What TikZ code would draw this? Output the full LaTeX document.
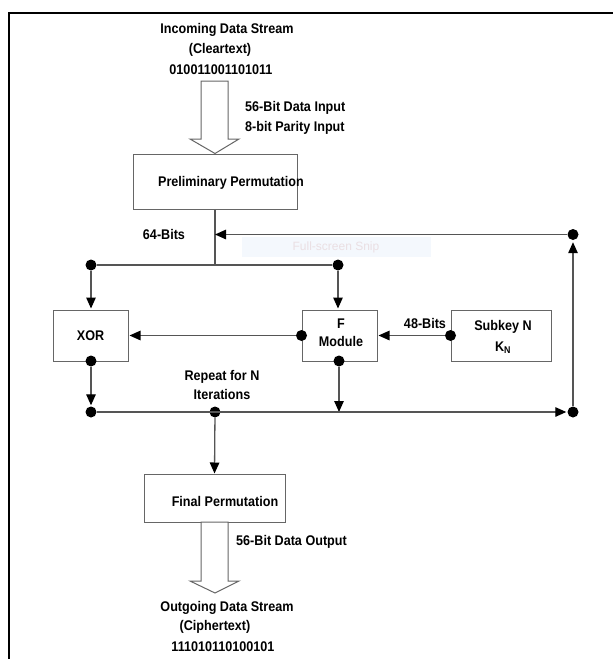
\documentclass[tikz,border=0pt]{standalone}
\usepackage{fontspec}
\setmainfont{Liberation Sans}[FakeStretch=0.9]
\newfontfamily\snipfont{Liberation Sans}
\usetikzlibrary{arrows.meta}
\definecolor{linegray}{HTML}{555555}
\definecolor{boxgray}{HTML}{666666}
\definecolor{snipfill}{HTML}{F4F8FD}
\definecolor{sniptext}{HTML}{EADFE3}
\begin{document}
\begin{tikzpicture}[x=1pt,y=-1pt,
  font=\bfseries\fontsize{14}{16}\selectfont,
  boxrect/.style={draw=boxgray, line width=1pt, inner sep=0pt, align=center},
  lbl/.style={inner sep=0pt, align=center},
  jdot/.style={circle, fill=black, inner sep=0pt, minimum size=11pt},
  conn/.style={draw=linegray, line width=1.3pt},
  arr/.style={conn, -{Triangle[length=11pt,width=9.5pt,color=black]}, shorten >=1pt},
  hollow/.style={draw=boxgray, line width=1pt, fill=white}]
\useasboundingbox (0,0) rectangle (613,659);
% frame
\draw[black, line width=1.4pt] (9,659) -- (9,13) -- (613,13);

% top texts
\node[lbl] (in1) at (227,30) {Incoming Data Stream};
\node[lbl] (in2) at (220,50) {(Cleartext)};
\node[lbl] (in3) at (221,70) {010011001101011};
\node[lbl, anchor=west] (inlbl1) at (245,108) {56-Bit Data Input};
\node[lbl, anchor=west] (inlbl2) at (245,128) {8-bit Parity Input};

% boxes
\node[boxrect, minimum width=164pt, minimum height=55pt] (prelim) at (215,181.5) {};
\node[lbl] (prelimtxt) at (231,183) {Preliminary Permutation};
\node[boxrect, minimum width=75pt, minimum height=51pt] (xor) at (90.5,335.5) {XOR};
\node[boxrect, minimum width=75pt, minimum height=51pt] (fmod) at (339.5,335.5) {};
\node[lbl] (ftxt) at (341,333) {F\\[2pt]Module};
\node[boxrect, minimum width=100pt, minimum height=51pt] (subkey) at (501,335.5) {};
\node[lbl] (sktxt) at (503,337) {Subkey N\\[5pt]K\textsubscript{N}};
\node[boxrect, minimum width=141pt, minimum height=48pt] (final) at (214.5,498) {};
\node[lbl] (finaltxt) at (225,501) {Final Permutation};

% hollow arrows
\draw[hollow] (201,81) -- (201,139) -- (190,139) -- (prelim.north) -- (239,139) -- (228,139) -- (228,81) -- cycle;
\draw[hollow] (201,522) -- (201,581) -- (190,581) -- (215,593) -- (239,581) -- (228,581) -- (228,522) -- cycle;

% snip overlay
\fill[snipfill] (242,237) rectangle (431,257);
\node[lbl, text=sniptext, font=\snipfont\fontsize{12}{14}\selectfont] (snip) at (336,247) {Full-screen Snip};

% labels
\node[lbl] (b64) at (164,234) {64-Bits};
\node[lbl] (b48) at (425,323) {48-Bits};
\node[lbl] (rep) at (222,385) {Repeat for N\\[3pt]Iterations};
\node[lbl, anchor=west] (outlbl) at (236,542) {56-Bit Data Output};
\node[lbl] (out1) at (227,608) {Outgoing Data Stream};
\node[lbl] (out2) at (215,627) {(Ciphertext)};
\node[lbl] (out3) at (223,647) {111010110100101};

% junctions
\coordinate (split) at (215,265);
\coordinate (fb) at (215,234.5);
\node[jdot] (dTL) at (91,265) {};
\node[jdot] (dTF) at (338,265) {};
\node[jdot] (dFL) at (fmod.west) {};
\node[jdot] (dSK) at (subkey.west) {};
\node[jdot] (dXB) at (91,361) {};
\node[jdot] (dFB) at (339,361) {};
\node[jdot] (dBL) at (91,412) {};
\node[jdot] (dBM) at (215,412) {};
\node[jdot] (dBR) at (573,412) {};
\node[jdot] (dTR) at (573,234.5) {};

% connectors
\draw[conn] (prelim.south) -- (split);
\draw[conn] (dTL) -- (dTF);
\draw[arr] (dTL) -- (dTL |- xor.north);
\draw[arr] (dTF) -- (dTF |- fmod.north);
\draw[arr] (dFL) -- (xor.east);
\draw[arr] (dSK) -- (fmod.east);
\draw[arr] (dXB) -- (dBL);
\draw[arr, shorten >=0pt] (dFB) -- (dFB |- dBL.center);
\draw[arr] (dBL) -- (dBR);
\draw[arr, shorten >=0pt] (dBM) -- (final.north);
\draw[arr, shorten >=2pt] (dBR) -- (dTR);
\draw[arr, shorten >=0pt] (dTR) -- (fb);
\end{tikzpicture}
\end{document}
